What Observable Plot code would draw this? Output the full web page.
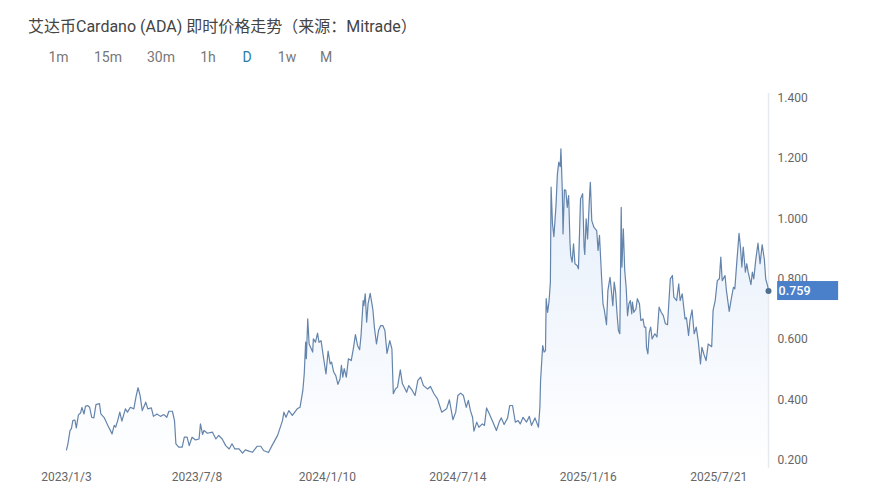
<!DOCTYPE html>
<html><head><meta charset="utf-8">
<script src="https://cdn.jsdelivr.net/npm/d3@7"></script>
<script src="https://cdn.jsdelivr.net/npm/@observablehq/plot@0.6"></script>
<style>
html,body{margin:0;padding:0;background:#fff;overflow:hidden}
#head{position:relative;height:80px;width:893px;font-family:Roboto,"Noto Sans CJK SC",sans-serif}
#title{position:absolute;left:28px;top:17px;font-size:16px;line-height:20px;color:#444;white-space:nowrap}
.tab{position:absolute;top:48px;font-size:14px;line-height:18px;color:#777;transform:translateX(-50%)}
#chart{display:block}
svg{display:block}
</style></head><body>
<div id="head"><div id="title">艾达币Cardano (ADA) 即时价格走势（来源：Mitrade）</div></div>
<div id="chart"></div>
<script>
const titleTabs=["1m","15m","30m","1h","D","1w","M"];
const tabCenters=[58.5,108,161,208,247,287,326];
const startDate=new Date(Date.UTC(2023,0,3));
const tickDays=[0,186,372,558,744,930];
const yTicks=[0.2,0.4,0.6,0.8,1.0,1.2,1.4];
const days=[0,2,5,7,9,12,14,17,20,22,25,27,30,33,36,39,42,47,49,54,59,65,68,70,73,76,79,84,87,91,96,99,102,105,108,113,116,121,124,129,134,139,143,146,151,154,156,160,165,168,172,175,179,184,189,191,194,196,201,208,213,217,222,227,232,236,240,246,251,255,260,265,272,277,281,288,293,301,308,310,313,317,322,329,333,
337,339,341,342,344,346,349,351,352,355,358,360,363,366,370,373,376,378,381,384,387,390,392,394,396,399,402,406,409,412,415,418,420,423,424,426,428,430,433,436,437,439,442,445,448,451,454,457,461,464,466,469,472,476,479,482,485,488,493,497,501,505,509,515,519,524,529,532,535,538,542,546,551,555,558,562,566,570,573,576,579,581,585,588,593,596,599,603,608,613,617,620,624,629,632,636,640,644,647,651,656,660,663,668,673,
675,676,679,681,683,684,686,688,690,691,693,695,698,700,702,704,705,707,708,710,712,714,716,718,719,721,723,725,728,730,733,736,738,739,741,743,746,747,749,752,756,758,760,763,765,767,770,772,775,777,779,781,783,785,787,789,791,792,794,796,798,800,802,804,806,807,809,812,814,817,819,822,824,826,827,829,831,833,835,839,842,845,
848,851,854,857,861,864,866,870,873,875,878,882,884,887,889,892,895,898,901,904,906,909,912,915,920,922,925,928,931,933,935,939,941,945,948,951,953,956,959,961,963,965,968,970,972,976,978,980,983,986,989,992,995,997,1000,1001];
const prices=[.232,.252,.296,.302,.329,.331,.305,.348,.354,.373,.351,.376,.379,.373,.340,.338,.382,.385,.351,.338,.313,.285,.313,.307,.329,.357,.327,.368,.357,.373,.368,.407,.438,.412,.362,.390,.368,.371,.343,.351,.343,.349,.340,.360,.360,.329,.252,.241,.241,.274,.274,.246,.274,.265,.268,.318,.283,.296,.287,.291,.268,.280,.268,.246,.235,.252,.235,.235,.221,.232,.228,.224,.244,.244,.230,.223,.246,.280,.329,.357,.340,.362,.346,.368,.373,
.429,.484,.589,.534,.666,.583,.567,.556,.600,.589,.619,.589,.594,.545,.484,.559,.517,.523,.490,.478,.449,.467,.512,.473,.501,.473,.534,.528,.567,.614,.578,.564,.611,.727,.710,.749,.655,.716,.751,.710,.694,.639,.583,.628,.644,.644,.628,.552,.594,.567,.418,.434,.440,.497,.451,.438,.423,.445,.429,.412,.462,.473,.445,.434,.442,.418,.401,.379,.357,.362,.368,.398,.332,.357,.412,.420,.412,.373,.396,.362,.340,.294,.324,.307,.318,.313,.371,.351,.324,.296,.324,.338,.316,.338,.379,.379,.324,.329,.318,.340,.324,.343,.313,.338,.307,
.373,.462,.578,.556,.561,.733,.688,.722,.788,1.103,.981,.939,1.042,1.147,1.186,1.171,1.230,1.092,.948,1.094,1.092,1.036,1.075,.915,.876,.854,.915,.849,.843,.832,1.064,1.081,.904,.880,.998,.931,1.081,1.119,.992,.970,.959,.893,.943,.804,.716,.694,.647,.760,.804,.760,.710,.788,.755,.683,.628,.617,1.036,.838,.965,.826,.771,.677,.716,.727,.683,.722,.688,.699,.733,.716,.661,.666,.639,.639,.572,.550,.622,.639,.600,.617,.606,.705,
.688,.677,.650,.647,.799,.810,.738,.727,.782,.727,.749,.666,.670,.611,.661,.696,.617,.639,.589,.517,.572,.548,.528,.583,.574,.694,.727,.793,.799,.871,.793,.810,.760,.691,.733,.771,.766,.860,.950,.904,.838,.904,.821,.849,.821,.780,.821,.799,.865,.917,.849,.912,.865,.799,.773,.759];
const lastPrice=0.759;

const head=document.getElementById("head");
titleTabs.forEach((t,i)=>{const s=document.createElement("span");s.className="tab";s.textContent=t;s.style.left=tabCenters[i]+"px";if(t==="D")s.style.color="#2a7ba8";head.appendChild(s);});

const date=d=>d3.utcDay.offset(startDate,d);
const data=days.map((d,i)=>({date:date(d),price:prices[i]}));
const yBase=0.1702, yTop=1.4133;
const gradient=()=>{
  const defs=d3.create("svg:defs");
  const g=defs.append("linearGradient").attr("id","areaFill").attr("x1",0).attr("y1",0).attr("x2",0).attr("y2",1);
  g.append("stop").attr("offset","0%").attr("stop-color","#e3edfa");
  g.append("stop").attr("offset","100%").attr("stop-color","#ffffff");
  return defs.node();
};
const last=data[data.length-1];
const plot=Plot.plot({
  width:893,height:419,marginLeft:66,marginRight:125,marginTop:13,marginBottom:31,
  style:{background:"#fff",fontFamily:"Roboto, Arial, sans-serif"},
  x:{type:"utc",domain:[startDate,date(1001.4)],label:null},
  y:{domain:[yBase,yTop],label:null},
  marks:[
    gradient,
    Plot.areaY(data,{x:"date",y1:yBase,y2:"price",fill:"url(#areaFill)"}),
    Plot.ruleX([date(1001.4)],{y1:yBase,y2:yTop,stroke:"#e6e9ee",strokeWidth:1.5}),
    Plot.axisY({anchor:"right",ticks:yTicks,tickSize:0,tickPadding:9,dy:0.5,tickFormat:d3.format(".3f"),fontSize:12,color:"#666",label:null}),
    Plot.axisX({ticks:tickDays.map(date),tickSize:0,tickPadding:4,tickFormat:d3.utcFormat("%Y/%-m/%-d"),fontSize:12,color:"#666",label:null}),
    Plot.line(data,{x:"date",y:"price",stroke:"#6484ab",strokeWidth:1.2}),
    Plot.dot([last],{x:"date",y:"price",r:3,fill:"#4f6f8f"}),
    Plot.rect([0],{x1:date(1014),x2:date(1101),y1:0.727,y2:0.790,fill:"#4a7fc9"}),
    Plot.text([lastPrice],{x:date(1014),y:d=>d,text:d=>d3.format(".3f")(d),textAnchor:"start",dx:1,fill:"#fff",fontSize:12.5,fontWeight:500})
  ]
});
document.getElementById("chart").appendChild(plot);
</script>
</body></html>
